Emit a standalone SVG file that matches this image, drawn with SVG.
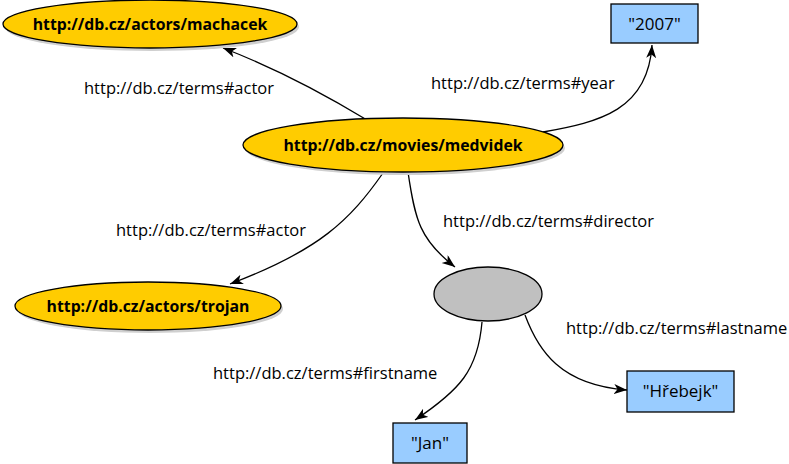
<svg xmlns="http://www.w3.org/2000/svg" width="789" height="464" viewBox="0 0 789 464">
<style>
.res{fill:#FFCC00;stroke:#000;stroke-width:1.3}
.shadow{fill:#cfcfcf}
.blank{fill:#C0C0C0;stroke:#000;stroke-width:1.3}
.lit{fill:#99CCFF;stroke:#000;stroke-width:1.3}
.nt{font-family:"Open Sans","DejaVu Sans",sans-serif;font-weight:bold;font-size:15.8px;text-anchor:middle;fill:#000}
.lt{font-family:"Open Sans","DejaVu Sans",sans-serif;font-size:17px;text-anchor:middle;fill:#000}
.el{font-family:"Open Sans","DejaVu Sans",sans-serif;font-size:16.5px;fill:#000}
.edge{fill:none;stroke:#000;stroke-width:1.3;marker-end:url(#arr)}
</style>
<defs>
<marker id="arr" markerUnits="userSpaceOnUse" markerWidth="14" markerHeight="12" refX="13" refY="5" orient="auto">
<path d="M0,0 L13,5 L0,10 L3.5,5 z" fill="#000"/>
</marker>
</defs>
<rect width="789" height="464" fill="#fff"/>
<g id="connectors">
<path class="edge" d="M367,120 Q291,74 223,48"/>
<path class="edge" d="M543,132 C600,122 648,110 652,45"/>
<path class="edge" d="M383,173 C350,220 320,250 230,284"/>
<path class="edge" d="M408,172 C415,220 420,240 455,267"/>
<path class="edge" d="M482,322 C478,370 460,390 415,420"/>
<path class="edge" d="M525,315 C538,350 560,385 627,390"/>
</g>
<g id="edge-labels">
<text class="el" x="84" y="94">http://db.cz/terms#actor</text>
<text class="el" x="431" y="89">http://db.cz/terms#year</text>
<text class="el" x="116" y="236">http://db.cz/terms#actor</text>
<text class="el" x="443" y="227">http://db.cz/terms#director</text>
<text class="el" x="566" y="334">http://db.cz/terms#lastname</text>
<text class="el" x="213" y="379">http://db.cz/terms#firstname</text>
</g>
<g id="machacek">
<ellipse class="shadow" cx="152" cy="27" rx="147" ry="24"/>
<ellipse class="res" cx="150" cy="24" rx="147" ry="24"/>
<text class="nt" x="150" y="30">http://db.cz/actors/machacek</text>
</g>
<g id="medvidek">
<ellipse class="shadow" cx="405" cy="148" rx="160" ry="27"/>
<ellipse class="res" cx="403" cy="145" rx="160" ry="27"/>
<text class="nt" x="403" y="151">http://db.cz/movies/medvidek</text>
</g>
<g id="trojan">
<ellipse class="shadow" cx="150" cy="309" rx="133" ry="24"/>
<ellipse class="res" cx="148" cy="306" rx="133" ry="24"/>
<text class="nt" x="148" y="312">http://db.cz/actors/trojan</text>
</g>
<g id="year2007">
<rect class="lit" x="611" y="4" width="87" height="39"/>
<text class="lt" x="654.5" y="30">"2007"</text>
</g>
<g id="blank">
<ellipse class="blank" cx="488" cy="294" rx="54" ry="27"/>
</g>
<g id="hrebejk">
<rect class="lit" x="627" y="371" width="107" height="41"/>
<text class="lt" x="680.5" y="397">"Hřebejk"</text>
</g>
<g id="jan">
<rect class="lit" x="393" y="423" width="74" height="40"/>
<text class="lt" x="430" y="449">"Jan"</text>
</g>
</svg>
